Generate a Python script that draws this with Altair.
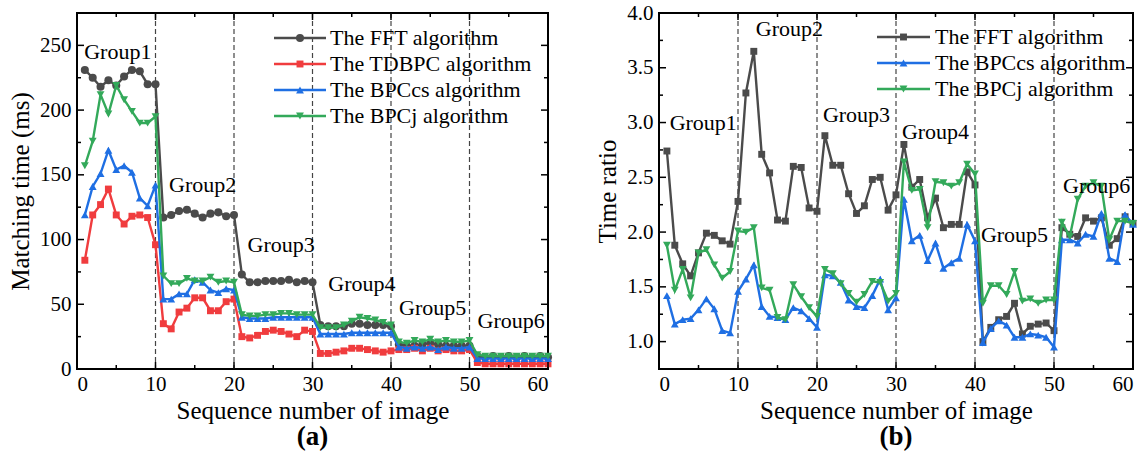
import altair as alt
import pandas as pd

# ---------------- data ----------------
seq = list(range(1, 61))

fft_a = [231, 225, 218, 223, 219, 226, 231, 230, 220, 220,
         117, 119, 122, 123, 120, 117, 120, 121, 118, 119,
         73, 67, 67, 68, 68, 68, 69, 67, 68, 67,
         34, 33, 33, 33, 35, 35, 34, 34, 34, 33,
         19, 18, 18, 19, 20, 19, 18, 18, 18, 18,
         10, 9, 10, 9, 10, 9, 10, 9, 10, 9]
tdbpc_a = [84, 119, 127, 139, 119, 112, 118, 119, 117, 96,
           35, 31, 44, 47, 55, 55, 45, 45, 52, 54,
           25, 24, 26, 29, 30, 29, 27, 25, 30, 29,
           12, 12, 13, 14, 16, 16, 15, 14, 13, 14,
           15, 15, 16, 14, 16, 14, 15, 14, 14, 15,
           5, 4, 4, 4, 4, 4, 4, 4, 4, 4]
bpccs_a = [119, 141, 151, 169, 154, 157, 152, 132, 126, 142,
           54, 54, 58, 58, 69, 67, 61, 59, 62, 61,
           40, 39, 39, 39, 40, 40, 40, 40, 40, 40,
           27, 27, 27, 27, 28, 28, 28, 28, 28, 28,
           17, 16, 17, 16, 17, 15, 17, 16, 16, 17,
           8, 8, 8, 8, 8, 8, 8, 8, 8, 8]
bpcj_a = [157, 176, 212, 197, 219, 208, 199, 190, 190, 195,
          72, 66, 66, 70, 68, 68, 71, 67, 68, 67,
          42, 41, 41, 42, 42, 43, 43, 42, 42, 42,
          32, 32, 32, 34, 37, 40, 39, 38, 36, 34,
          21, 20, 22, 21, 23, 21, 22, 21, 21, 22,
          11, 10, 10, 10, 10, 10, 10, 10, 10, 10]

fft_b = [2.74, 1.88, 1.71, 1.60, 1.81, 1.99, 1.97, 1.92, 1.89, 2.28,
         3.27, 3.65, 2.71, 2.54, 2.11, 2.10, 2.60, 2.59, 2.22, 2.19,
         2.88, 2.61, 2.61, 2.35, 2.17, 2.24, 2.48, 2.50, 2.20, 2.34,
         2.80, 2.41, 2.48, 2.13, 2.31, 2.04, 2.07, 2.07, 2.55, 2.43,
         1.00, 1.13, 1.20, 1.23, 1.35, 1.07, 1.14, 1.16, 1.17, 1.10,
         2.04, 1.98, 1.96, 2.13, 2.10, 2.13, 1.88, 1.94, 2.14, 2.08]
bpccs_b = [1.42, 1.16, 1.20, 1.21, 1.29, 1.39, 1.30, 1.10, 1.08, 1.46,
           1.57, 1.70, 1.32, 1.23, 1.22, 1.20, 1.31, 1.28, 1.21, 1.13,
           1.61, 1.60, 1.54, 1.38, 1.32, 1.31, 1.42, 1.57, 1.29, 1.40,
           2.30, 1.92, 1.97, 1.74, 1.90, 1.67, 1.72, 1.76, 2.07, 1.92,
           0.99, 1.12, 1.19, 1.15, 1.04, 1.04, 1.07, 1.06, 1.04, 0.95,
           1.93, 1.93, 1.90, 1.98, 1.96, 2.17, 1.76, 1.73, 2.16, 2.07]
bpcj_b = [1.88, 1.47, 1.66, 1.40, 1.81, 1.84, 1.70, 1.58, 1.64, 2.01,
          2.00, 2.04, 1.49, 1.47, 1.22, 1.20, 1.52, 1.41, 1.31, 1.23,
          1.66, 1.62, 1.53, 1.44, 1.36, 1.43, 1.55, 1.54, 1.37, 1.44,
          2.64, 2.38, 2.39, 2.04, 2.46, 2.45, 2.42, 2.45, 2.62, 2.53,
          1.35, 1.51, 1.51, 1.43, 1.64, 1.37, 1.39, 1.35, 1.38, 1.38,
          2.09, 1.96, 2.30, 2.42, 2.45, 2.42, 1.93, 2.10, 2.10, 2.08]

group_names = ["Group1", "Group2", "Group3", "Group4", "Group5", "Group6"]
group_x_a = [5.2, 16.0, 26.0, 36.3, 45.3, 55.3]
group_y_a = [245, 142, 96, 66, 47, 37]
group_x_b = [5.6, 16.5, 25.0, 35.0, 45.0, 55.4]
group_y_b = [3.0, 3.85, 3.07, 2.91, 1.97, 2.42]

x_major = [0, 10, 20, 30, 40, 50, 60]
x_minor = [5, 15, 25, 35, 45, 55]
dividers = [10, 20, 30, 40, 50]
ya_major = [0, 50, 100, 150, 200, 250]
ya_minor = [25, 75, 125, 175, 225]
yb_major = [1.0, 1.5, 2.0, 2.5, 3.0, 3.5, 4.0]
yb_minor = [1.25, 1.75, 2.25, 2.75, 3.25, 3.75]

FONT = "Liberation Serif"
GRAY = "#4b4b4b"
RED = "#f03c3e"
BLUE = "#1f6fe3"
GREEN = "#33a95a"

ONE = alt.Data(values=[{"a": 1}])


def panel(series, ydom, ymaj, ymin, yfmt, ytitle, letter, gx, gy, leg, W, H):
    xs = alt.Scale(domain=[0, 60], nice=False, zero=False)
    ys = alt.Scale(domain=ydom, nice=False, zero=False)
    xax = alt.Axis(values=x_major, tickSize=0, domain=False, grid=False,
                   labelFont=FONT, labelFontSize=21, labelColor="black",
                   labelPadding=4, title="Sequence number of image",
                   titleFont=FONT, titleFontSize=25, titleFontWeight="normal",
                   titleColor="black", titlePadding=4)
    yax = alt.Axis(values=ymaj, format=yfmt, tickSize=0, domain=False, grid=False,
                   labelFont=FONT, labelFontSize=21, labelColor="black",
                   labelPadding=6, title=ytitle,
                   titleFont=FONT, titleFontSize=25, titleFontWeight="normal",
                   titleColor="black", titlePadding=6)

    layers = []
    div_df = pd.DataFrame({"x": dividers})
    layers.append(alt.Chart(div_df).mark_rule(color="#444444", strokeWidth=1.2, strokeDash=[5, 3]).encode(
        x=alt.X("x:Q", scale=xs, axis=xax), y=alt.value(0), y2=alt.value(H)))

    for name, vals, color, shape, size in series:
        df = pd.DataFrame({"x": seq, "y": vals})
        layers.append(alt.Chart(df).mark_line(color=color, strokeWidth=2.4).encode(
            x=alt.X("x:Q", scale=xs), y=alt.Y("y:Q", scale=ys, axis=yax)))
        layers.append(alt.Chart(df).mark_point(color=color, filled=True, opacity=1,
                                               shape=shape, size=size).encode(
            x=alt.X("x:Q", scale=xs), y=alt.Y("y:Q", scale=ys)))

    for vals, ln in ((ymaj, 7), (ymin, 4)):
        df = pd.DataFrame({"y": vals})
        layers.append(alt.Chart(df).mark_rule(color="black", strokeWidth=1.5).encode(
            y=alt.Y("y:Q", scale=ys), x=alt.value(0), x2=alt.value(ln)))
        layers.append(alt.Chart(df).mark_rule(color="black", strokeWidth=1.5).encode(
            y=alt.Y("y:Q", scale=ys), x=alt.value(W), x2=alt.value(W - ln)))
    for vals, ln in ((x_major, 7), (x_minor, 4)):
        df = pd.DataFrame({"x": vals})
        layers.append(alt.Chart(df).mark_rule(color="black", strokeWidth=1.5).encode(
            x=alt.X("x:Q", scale=xs), y=alt.value(H), y2=alt.value(H - ln)))
        layers.append(alt.Chart(df).mark_rule(color="black", strokeWidth=1.5).encode(
            x=alt.X("x:Q", scale=xs), y=alt.value(0), y2=alt.value(ln)))

    gdf = pd.DataFrame({"x": gx, "y": gy, "t": group_names})
    layers.append(alt.Chart(gdf).mark_text(font=FONT, fontSize=22, color="black",
                                           align="center", baseline="middle").encode(
        x=alt.X("x:Q", scale=xs), y=alt.Y("y:Q", scale=ys), text="t:N"))

    lx0, lx1, tx, ly0, dy = leg
    for i, (name, vals, color, shape, size) in enumerate(series):
        yy = ly0 + i * dy
        layers.append(alt.Chart(ONE).mark_rule(color=color, strokeWidth=2.6).encode(
            x=alt.value(lx0), x2=alt.value(lx1), y=alt.value(yy)))
        layers.append(alt.Chart(ONE).mark_point(color=color, filled=True, opacity=1,
                                                shape=shape, size=size).encode(
            x=alt.value((lx0 + lx1) / 2), y=alt.value(yy)))
        layers.append(alt.Chart(ONE).mark_text(font=FONT, fontSize=22, color="black",
                                               align="left", baseline="middle").encode(
            x=alt.value(tx), y=alt.value(yy), text=alt.value(name)))

    return alt.layer(*layers).properties(
        width=W, height=H,
        title=alt.TitleParams(letter, orient="bottom", font=FONT, fontSize=27,
                              fontWeight="bold", color="black", offset=1))


series_a = [
    ("The FFT algorithm", fft_a, GRAY, "circle", 65),
    ("The TDBPC algorithm", tdbpc_a, RED, "square", 48),
    ("The BPCcs algorithm", bpccs_a, BLUE, "triangle-up", 62),
    ("The BPCj algorithm", bpcj_a, GREEN, "triangle-down", 62),
]
series_b = [
    ("The FFT algorithm", fft_b, GRAY, "square", 48),
    ("The BPCcs algorithm", bpccs_b, BLUE, "triangle-up", 62),
    ("The BPCj algorithm", bpcj_b, GREEN, "triangle-down", 62),
]

WA, WB, H = 471, 474, 356
pa = panel(series_a, [0, 275], ya_major, ya_minor, "d", "Matching time (ms)", "(a)",
           group_x_a, group_y_a, (197, 249, 253, 25, 26), WA, H)
pb = panel(series_b, [0.75, 4.0], yb_major, yb_minor, ".1f", "Time ratio", "(b)",
           group_x_b, group_y_b, (218, 271, 276, 24, 26), WB, H)

chart = alt.hconcat(pa, pb, spacing=40).properties(
    padding={"left": 7, "top": 1, "right": 5, "bottom": 2},
    background="white",
).configure_view(stroke="black", strokeWidth=2).configure_concat(spacing=40)

chart.save("out.html", embed_options={"renderer": "svg", "actions": False})
